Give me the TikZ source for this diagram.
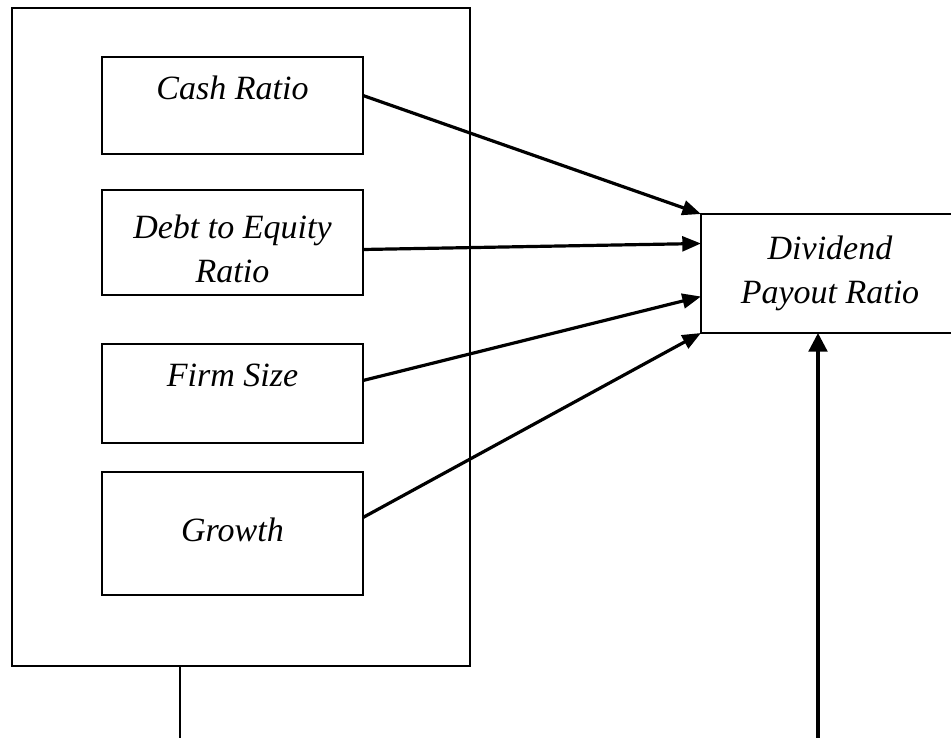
\documentclass[tikz,border=0pt]{standalone}
\usepackage{fontspec}
\setmainfont{Liberation Serif}
\usetikzlibrary{arrows.meta,calc}
\tikzset{
  box/.style={draw, line width=1pt, inner sep=0pt, outer sep=0pt, minimum width=195.75pt},
  lbl/.style={font=\fontsize{25.5}{33}\selectfont\itshape, align=center, inner sep=0pt},
  link/.style={line width=2.4pt, -{Triangle[length=14pt,width=11pt]}}
}
\begin{document}
\begin{tikzpicture}[x=0.75pt,y=-0.75pt]
\clip (0,0) rectangle (951,738);
% outer frame and the four variables
\node[box, minimum width=343.5pt, minimum height=493.5pt] (frame) at (241,337) {};
\node[box, minimum height=72.75pt] (cash) at (232.5,105.5) {};
\node[box, minimum height=78.75pt] (debt) at (232.5,242.5) {};
\node[box, minimum height=74.25pt] (size) at (232.5,393.5) {};
\node[box, minimum height=92.25pt] (growth) at (232.5,533.5) {};
\node[box, minimum width=194.25pt, minimum height=89.25pt] (dpr) at (830.5,273.5) {};
\node[lbl, anchor=base] (cashtxt) at (232.5,100) {Cash Ratio};
\node[lbl] (debttxt) at (232.5,249) {Debt to Equity\\Ratio};
\node[lbl, anchor=base] (sizetxt) at (232.5,387) {Firm Size};
\node[lbl, anchor=base] (growthtxt) at (232.5,541) {Growth};
\node[lbl] (dprtxt) at (830,273) {Dividend\\Payout Ratio};
% arrows into the dependent variable
\draw[link] ($(cash.east)+(0,-10)$) -- (dpr.north west);
\draw[link] ($(debt.east)+(0,7)$) -- ($(dpr.west)+(0,-30)$);
\draw[link] ($(size.east)+(0,-13)$) -- ($(dpr.west)+(0,23)$);
\draw[link] ($(growth.east)+(0,-16)$) -- (dpr.south west);
% lines leaving the bottom edge
\coordinate (stemfoot) at (180,740);
\coordinate (upfoot) at (818,740);
\draw[line width=1pt] (frame.south -| stemfoot) -- (stemfoot);
\draw[link, -{Triangle[length=14pt,width=14pt]}] (upfoot) -- (upfoot |- dpr.south);
\end{tikzpicture}
\end{document}
